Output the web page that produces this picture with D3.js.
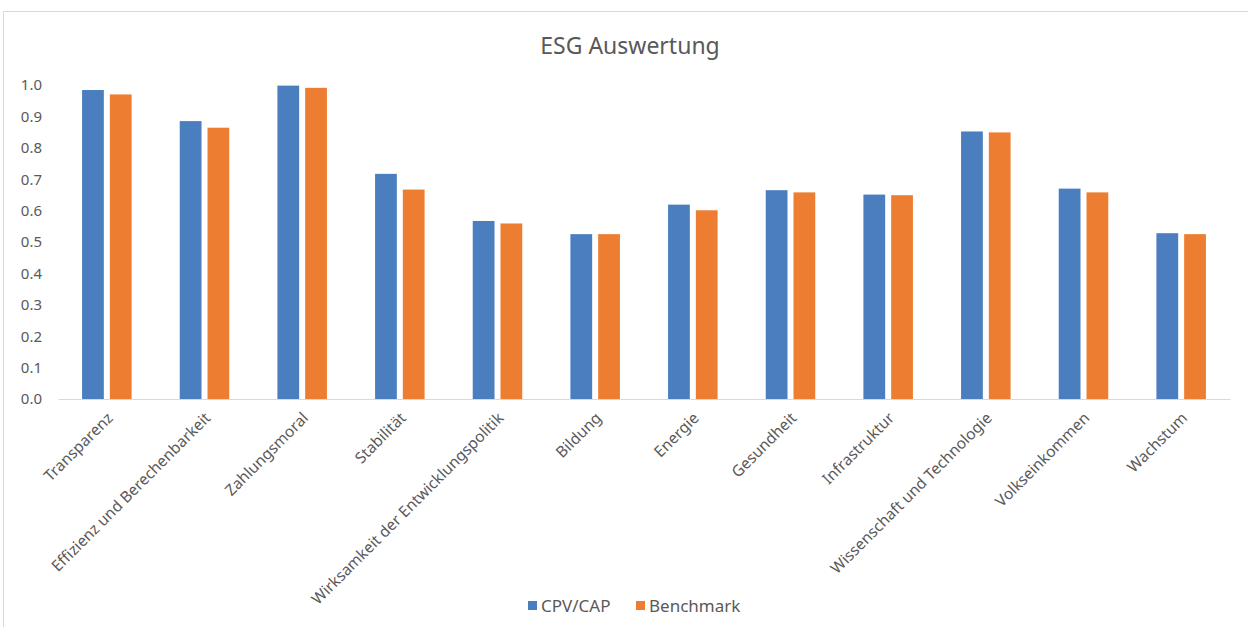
<!DOCTYPE html>
<html>
<head>
<meta charset="utf-8">
<script src="https://cdn.jsdelivr.net/npm/d3@7"></script>
<style>
  html, body { margin: 0; padding: 0; background: #fff; }
  svg { display: block; }
  text { font-family: "Noto Sans", "Open Sans", sans-serif; fill: #595959; }
</style>
</head>
<body>
<svg id="chart" width="1248" height="627"></svg>
<script>
// ESG scores per category
const categories = [
  "Transparenz", "Effizienz und Berechenbarkeit", "Zahlungsmoral", "Stabilität",
  "Wirksamkeit der Entwicklungspolitik", "Bildung", "Energie", "Gesundheit",
  "Infrastruktur", "Wissenschaft und Technologie", "Volkseinkommen", "Wachstum"
];
const seriesNames = ["CPV/CAP", "Benchmark"];
const cpvCap    = [0.984, 0.885, 0.998, 0.717, 0.567, 0.525, 0.619, 0.665, 0.651, 0.852, 0.670, 0.528];
const benchmark = [0.970, 0.864, 0.991, 0.667, 0.559, 0.525, 0.601, 0.658, 0.649, 0.849, 0.658, 0.525];
const yTicks = [0, 0.1, 0.2, 0.3, 0.4, 0.5, 0.6, 0.7, 0.8, 0.9, 1.0];
const colors = ["#4a7ebf", "#ed7d31"];

const rows = categories.map((c, i) => ({ category: c, values: [cpvCap[i], benchmark[i]] }));

const svg = d3.select("#chart");

// chart area frame
svg.append("rect")
  .attr("x", 3.5).attr("y", 11.5)
  .attr("width", 1260).attr("height", 640)
  .attr("fill", "none").attr("stroke", "#d9d9d9").attr("stroke-width", 1);

const margin = { left: 58, right: 1230, top: 85, bottom: 399 };

const x0 = d3.scaleBand()
  .domain(categories)
  .range([margin.left, margin.right])
  .paddingInner(0.493)
  .paddingOuter(0.2465);

const x1 = d3.scaleBand()
  .domain(seriesNames)
  .range([0, x0.bandwidth()])
  .paddingInner(0.216);

const y = d3.scaleLinear().domain([0, 1]).range([margin.bottom, margin.top]);

// title
svg.append("text")
  .attr("x", 630).attr("y", 54)
  .attr("text-anchor", "middle")
  .style("font-size", "23px")
  .text("ESG Auswertung");

// y axis (labels only)
const yAxis = d3.axisLeft(y).tickValues(yTicks).tickFormat(d3.format(".1f")).tickSize(0).tickPadding(0);
const gy = svg.append("g").attr("transform", `translate(42,0)`).call(yAxis);
gy.select(".domain").remove();
gy.selectAll("text").style("font-size", "15px").style("font-family", "'Noto Sans', sans-serif").attr("fill", "#595959");

// bars
const groups = svg.append("g").selectAll("g")
  .data(rows).join("g")
  .attr("transform", d => `translate(${x0(d.category)},0)`);

groups.selectAll("rect")
  .data(d => d.values.map((v, i) => ({ name: seriesNames[i], value: v, i })))
  .join("rect")
  .attr("x", d => x1(d.name))
  .attr("y", d => y(d.value))
  .attr("width", x1.bandwidth())
  .attr("height", d => y(0) - y(d.value))
  .attr("fill", d => colors[d.i]);

// x axis
const xAxis = d3.axisBottom(x0).tickSize(0).tickPadding(0);
const gx = svg.append("g").attr("transform", `translate(0,${margin.bottom})`).call(xAxis);
gx.select(".domain").attr("stroke", "#d9d9d9").attr("stroke-width", 1.2);
gx.selectAll(".tick text")
  .style("font-size", "15.5px")
  .style("font-family", "'Noto Sans', sans-serif")
  .attr("fill", "#595959")
  .attr("text-anchor", "end")
  .attr("dy", "0")
  .attr("transform", "translate(7,20) rotate(-45)");

// legend
const legendItems = [
  { name: seriesNames[0], color: colors[0], x: 528 },
  { name: seriesNames[1], color: colors[1], x: 636 }
];
const lg = svg.append("g");
legendItems.forEach(it => {
  lg.append("rect").attr("x", it.x).attr("y", 601).attr("width", 9).attr("height", 9).attr("fill", it.color);
  lg.append("text").attr("x", it.x + 13).attr("y", 611.5).style("font-size", "17px").text(it.name);
});
</script>
</body>
</html>
